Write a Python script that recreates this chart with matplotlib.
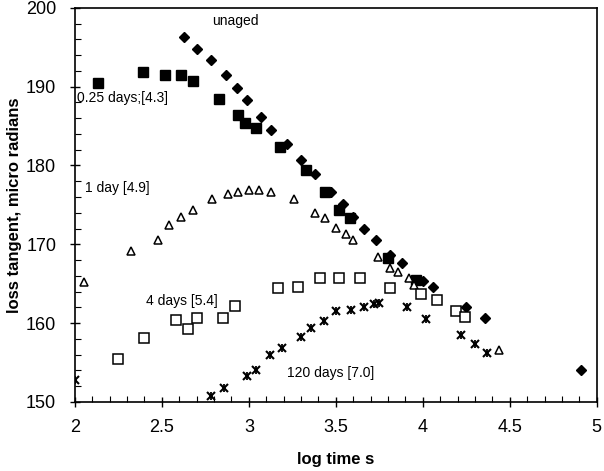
import numpy as np
import matplotlib
matplotlib.use('Agg')
import matplotlib.pyplot as plt
from matplotlib.ticker import MultipleLocator

plt.rcParams['font.family'] = ['Liberation Sans', 'DejaVu Sans']

# ---------- data (log time s, loss tangent) ----------
unaged_x = [2.63, 2.70, 2.78, 2.87, 2.93, 2.99, 3.07, 3.13, 3.22, 3.30, 3.38,
            3.47, 3.54, 3.60, 3.66, 3.73, 3.81, 3.88, 4.00, 4.06, 4.25, 4.36, 4.91]
unaged_y = [196.3, 194.8, 193.4, 191.5, 189.8, 188.3, 186.2, 184.5, 182.7, 180.7, 178.9,
            176.6, 175.1, 173.5, 172.0, 170.5, 168.7, 167.6, 165.3, 164.6, 162.1, 160.6, 154.1]

d025_x = [2.13, 2.39, 2.52, 2.61, 2.68, 2.83, 2.94, 2.98, 3.04, 3.18, 3.33,
          3.44, 3.52, 3.58, 3.80, 3.96]
d025_y = [190.5, 191.8, 191.5, 191.5, 190.7, 188.4, 186.4, 185.4, 184.8, 182.3, 179.4,
          176.6, 174.3, 173.3, 168.3, 165.5]

d1_x = [2.05, 2.32, 2.48, 2.54, 2.61, 2.68, 2.79, 2.88, 2.94, 3.00, 3.06, 3.13,
        3.26, 3.38, 3.44, 3.50, 3.56, 3.60, 3.74, 3.81, 3.86, 3.92, 3.95, 4.44]
d1_y = [165.2, 169.2, 170.5, 172.5, 173.5, 174.4, 175.7, 176.4, 176.6, 176.9, 176.9, 176.6,
        175.8, 174.0, 173.4, 172.1, 171.3, 170.6, 168.4, 167.0, 166.5, 165.7, 164.8, 156.6]

d4_x = [2.25, 2.40, 2.58, 2.65, 2.70, 2.85, 2.92, 3.17, 3.28, 3.41, 3.52, 3.64,
        3.81, 3.99, 4.08, 4.19, 4.24]
d4_y = [155.5, 158.1, 160.4, 159.3, 160.7, 160.7, 162.2, 164.4, 164.6, 165.7, 165.7, 165.7,
        164.4, 163.7, 162.9, 161.5, 160.8]

d120_x = [2.00, 2.78, 2.86, 2.99, 3.04, 3.12, 3.19, 3.30, 3.36, 3.43, 3.50, 3.59,
          3.66, 3.72, 3.75, 3.91, 4.02, 4.22, 4.30, 4.37]
d120_y = [152.8, 150.8, 151.8, 153.3, 154.0, 155.9, 156.9, 158.3, 159.4, 160.3, 161.5, 161.7,
          162.1, 162.4, 162.6, 162.0, 160.5, 158.5, 157.4, 156.2]

labels = ['unaged', '0.25 days;[4.3]', '1 day [4.9]', '4 days [5.4]', '120 days [7.0]']
label_pos = [(2.79, 198.3), (2.01, 188.6), (2.06, 177.2), (2.41, 162.8), (3.22, 153.7)]

# ---------- plot ----------
fig = plt.figure(figsize=(6.04, 4.71), dpi=100)
ax = fig.add_axes([0.124, 0.1465, 0.864, 0.837])

ax.plot(unaged_x, unaged_y, 'D', color='black', markersize=5.5, linestyle='none')
ax.plot(d025_x, d025_y, 's', color='black', markersize=6.5, linestyle='none')
ax.plot(d1_x, d1_y, '^', markerfacecolor='white', markeredgecolor='black',
        markersize=6, markeredgewidth=1.1, linestyle='none')
ax.plot(d4_x, d4_y, 's', markerfacecolor='white', markeredgecolor='black',
        markersize=7, markeredgewidth=1.1, linestyle='none')
# star marker: an x with a vertical bar through it
ax.plot(d120_x, d120_y, 'x', color='black', markersize=6, markeredgewidth=1.5, linestyle='none')
ax.plot(d120_x, d120_y, '|', color='black', markersize=6, markeredgewidth=1.3, linestyle='none')

for txt, (tx, ty) in zip(labels, label_pos):
    ax.text(tx, ty, txt, fontsize=10, ha='left', va='center')

ax.set_xlim(2, 5)
ax.set_ylim(150, 200)
ax.xaxis.set_major_locator(MultipleLocator(0.5))
ax.xaxis.set_minor_locator(MultipleLocator(0.1))
ax.yaxis.set_major_locator(MultipleLocator(10))
ax.yaxis.set_minor_locator(MultipleLocator(2))
ax.xaxis.set_major_formatter(plt.FuncFormatter(lambda v, p: f'{v:g}'))
ax.tick_params(which='major', direction='inout', length=7, width=1, labelsize=13)
ax.tick_params(axis='x', which='major', pad=9)
ax.tick_params(axis='y', which='major', pad=10)
ax.tick_params(which='minor', direction='in', length=4, width=0.8)
for s in ax.spines.values():
    s.set_linewidth(1.2)

ax.set_xlabel('log time s', fontsize=12, fontweight='bold', labelpad=11)
ax.set_ylabel('loss tangent, micro radians', fontsize=12, fontweight='bold', labelpad=3)

plt.savefig('out.png', dpi=100)
